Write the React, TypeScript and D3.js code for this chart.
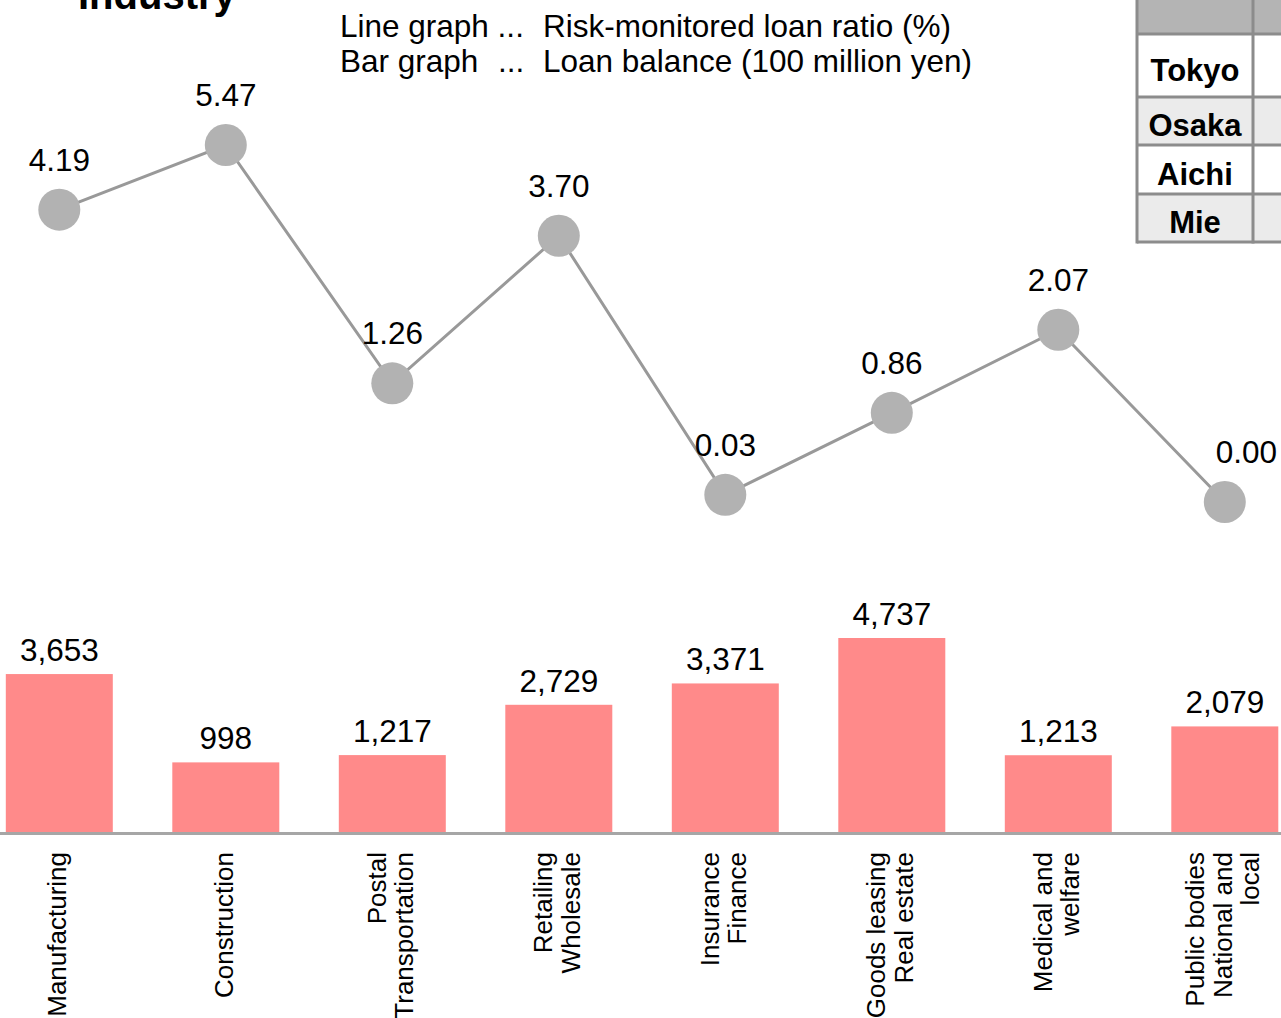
import React from "react";
import * as d3 from "d3";

const categories = [
  "Manufacturing",
  "Construction",
  "Postal\nTransportation",
  "Retailing\nWholesale",
  "Insurance\nFinance",
  "Goods leasing\nReal estate",
  "Medical and\nwelfare",
  "Public bodies\nNational and\nlocal",
];
const riskRatio = [4.19, 5.47, 1.26, 3.7, 0.03, 0.86, 2.07, 0.0];
const loanBalance = [3653, 998, 1217, 2729, 3371, 4737, 1213, 2079];
const prefectures = ["Tokyo", "Osaka", "Aichi", "Mie"];
const legendLabels = ["Line graph ...", "Bar graph"];
const legendDots = ["", "..."];
const legendTexts = ["Risk-monitored loan ratio (%)", "Loan balance (100 million yen)"];
const title = "Industry";

const W = 1281;
const H = 1018;
const FONT = "'Liberation Sans', Arial, Helvetica, sans-serif";

export default function App() {
  const x = d3.scalePoint<string>().domain(categories).range([59.3, 1224.8]);
  const yLine = d3.scalePow().exponent(0.75).domain([0, 5.47]).range([502, 145]);
  const baseline = 833;
  const yBar = d3.scaleLinear().domain([-1125, 4737]).range([baseline, 638]);
  const barW = 107;
  const fmtR = d3.format(".2f");
  const fmtB = d3.format(",");
  const FS = 31.5;

  const pts = categories.map((c, i) => [x(c) as number, yLine(riskRatio[i])] as [number, number]);
  const lineGen = d3.line();

  const rowEdges = [-30, 34, 97, 145, 194, 242];
  const col0 = 1137, col1 = 1253, col2 = 1300;

  return (
    <svg width={W} height={H} style={{ position: "absolute", left: 0, top: 0, background: "#fff" }} fontFamily={FONT}>
      <rect x={0} y={0} width={W} height={H} fill="#fff" />
      <text x={78} y={9} fontSize={40} fontWeight="bold" fill="#000">{title}</text>
      {legendLabels.map((l, i) => (
        <g key={l} fontSize={FS} fill="#000">
          <text x={340} y={37 + i * 35}>{l}</text>
          <text x={498} y={37 + i * 35}>{legendDots[i]}</text>
          <text x={543} y={37 + i * 35}>{legendTexts[i]}</text>
        </g>
      ))}
      <g>
        {rowEdges.slice(0, -1).map((top, r) => {
          const fill = r === 0 ? "#b4b4b4" : r % 2 === 0 ? "#ebebeb" : "#ffffff";
          return <rect key={r} x={col0} y={top} width={col2 - col0} height={rowEdges[r + 1] - top} fill={fill} />;
        })}
        {rowEdges.slice(1).map((yy, r) => (
          <line key={"h" + r} x1={col0} x2={col2} y1={yy} y2={yy} stroke="#8c8c8c" strokeWidth={3} />
        ))}
        <line x1={col0} x2={col0} y1={-30} y2={243.5} stroke="#8c8c8c" strokeWidth={3} />
        <line x1={col1} x2={col1} y1={-30} y2={243.5} stroke="#8c8c8c" strokeWidth={3} />
        {prefectures.map((p, i) => {
          const top = rowEdges[i + 1];
          const bot = rowEdges[i + 2];
          return (
            <text key={p} x={(col0 + col1) / 2} y={(top + bot) / 2 + 15} textAnchor="middle" fontSize={31} fontWeight="bold" fill="#000">
              {p}
            </text>
          );
        })}
      </g>
      {categories.map((c, i) => {
        const cx = x(c) as number;
        const top = yBar(loanBalance[i]);
        return (
          <g key={"b" + c}>
            <rect x={cx - barW / 2} y={top} width={barW} height={baseline - top} fill="#ff8a8a" />
            <text x={cx} y={top - 13} textAnchor="middle" fontSize={FS} fill="#000">{fmtB(loanBalance[i])}</text>
          </g>
        );
      })}
      <line x1={0} x2={W} y1={baseline + 0.5} y2={baseline + 0.5} stroke="#a6a6a6" strokeWidth={3} />
      {categories.map((c) => {
        const cx = x(c) as number;
        const lines = c.split("\n");
        const n = lines.length;
        return (
          <g key={"l" + c}>
            {lines.map((ln, k) => {
              const bx = cx + (k - (n - 1) / 2) * 27.5 + 7;
              return (
                <text key={k} transform={`translate(${bx},852) rotate(-90)`} textAnchor="end" fontSize={26} fill="#000">
                  {ln}
                </text>
              );
            })}
          </g>
        );
      })}
      <path d={lineGen(pts) || ""} fill="none" stroke="#999999" strokeWidth={3} />
      {pts.map((p, i) => (
        <circle key={"c" + i} cx={p[0]} cy={p[1]} r={21} fill="#b2b2b2" />
      ))}
      {pts.map((p, i) => {
        const isLast = i === pts.length - 1;
        return (
          <text
            key={"t" + i}
            x={isLast ? W - 4 : p[0]}
            y={p[1] - 39}
            textAnchor={isLast ? "end" : "middle"}
            fontSize={FS}
            fill="#000"
          >
            {fmtR(riskRatio[i])}
          </text>
        );
      })}
    </svg>
  );
}
